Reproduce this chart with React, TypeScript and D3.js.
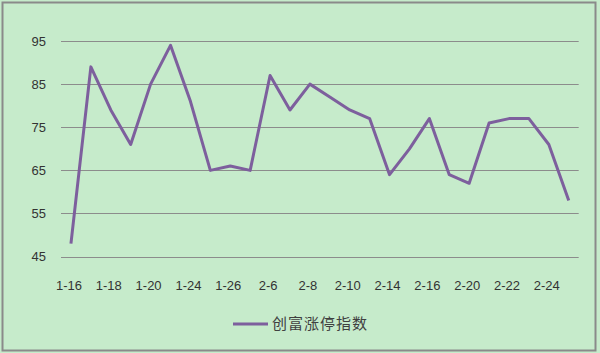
import React from "react";
import * as d3 from "d3";

const categories: string[] = [
  "1-16", "1-17", "1-18", "1-19", "1-20", "1-21", "1-24", "1-25", "1-26", "1-27",
  "2-6", "2-7", "2-8", "2-9", "2-10", "2-13", "2-14", "2-15", "2-16", "2-17",
  "2-20", "2-21", "2-22", "2-23", "2-24", "2-25",
];
const values: number[] = [
  48, 89, 79, 71, 85, 94, 81, 65, 66, 65,
  87, 79, 85, 82, 79, 77, 64, 70, 77, 64,
  62, 76, 77, 77, 71, 58,
];
const yTicks: number[] = [45, 55, 65, 75, 85, 95];
const seriesName = "创富涨停指数";

const W = 600;
const H = 353;
const left = 61;
const right = 578.7;
const top = 41;
const bottom = 256.6;

export default function App() {
  const x = d3
    .scaleBand<string>()
    .domain(categories)
    .range([left, right])
    .paddingInner(0)
    .paddingOuter(0);
  const y = d3.scaleLinear().domain([45, 95]).range([bottom, top]);
  const cx = (c: string) => (x(c) as number) + x.bandwidth() / 2;
  const line = d3
    .line<number>()
    .x((_, i) => cx(categories[i]))
    .y((d) => y(d));
  const labelCats = categories.filter((_, i) => i % 2 === 0);
  const font = "'Liberation Sans', Arial, sans-serif";

  return (
    <div style={{ position: "fixed", left: 0, top: 0 }}>
      <svg width={W} height={H} style={{ display: "block" }}>
        <rect x={0} y={0} width={W} height={H} fill="#C6EBCB" />
        <rect x={2.5} y={2.5} width={593} height={348} fill="none" stroke="#8a8a8a" strokeWidth={2} />
        {yTicks.map((t) => (
          <g key={t}>
            <line x1={left} x2={right} y1={Math.round(y(t)) + 0.5} y2={Math.round(y(t)) + 0.5} stroke="#8c8c8c" strokeWidth={1} />
            <text x={46} y={y(t)} dy="0.35em" textAnchor="end" fontFamily={font} fontSize={13} fill="#333">
              {t}
            </text>
          </g>
        ))}
        {labelCats.map((c) => (
          <text key={c} x={cx(c) - 2} y={285} dy="0.35em" textAnchor="middle" fontFamily={font} fontSize={13} fill="#333">
            {c}
          </text>
        ))}
        <path d={line(values) || ""} fill="none" stroke="#7D5F9D" strokeWidth={3} strokeLinejoin="round" />
        <line x1={233} x2={268} y1={324} y2={324} stroke="#7D5F9D" strokeWidth={3} />
        <text x={272} y={324} dy="0.35em" fontFamily="'Noto Sans CJK SC', sans-serif" fontSize={15} letterSpacing={1} fill="#404040">
          {seriesName}
        </text>
      </svg>
    </div>
  );
}
